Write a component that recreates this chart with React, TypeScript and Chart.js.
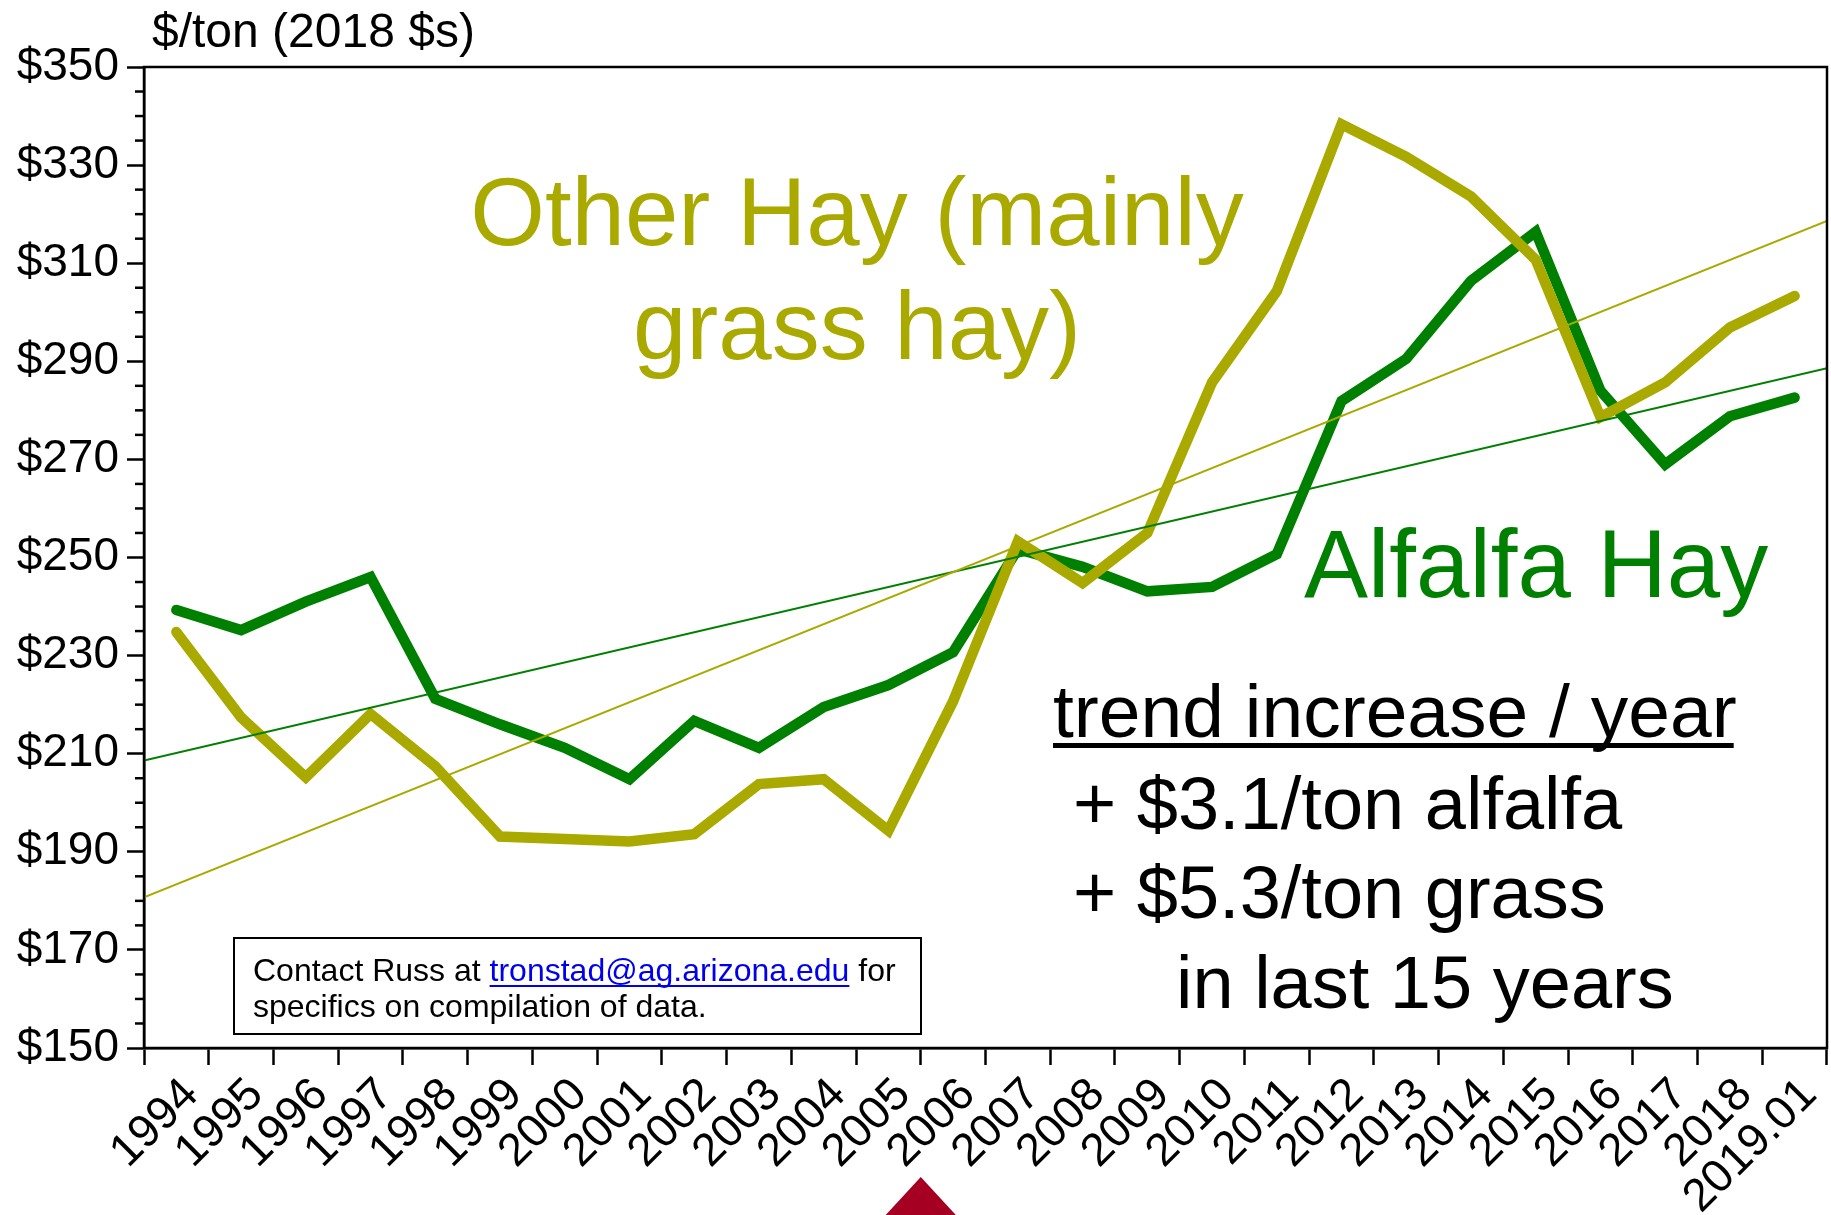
import React, { useEffect, useRef } from "react";
import { Chart, registerables } from "chart.js";

Chart.register(...registerables);

const FONT = "'Liberation Sans', Arial, Helvetica, sans-serif";
const OLIVE = "#A9A900";
const GREEN = "#008000";

// ---- data ----
const years = [
  "1994", "1995", "1996", "1997", "1998", "1999", "2000", "2001", "2002",
  "2003", "2004", "2005", "2006", "2007", "2008", "2009", "2010", "2011",
  "2012", "2013", "2014", "2015", "2016", "2017", "2018", "2019.01",
];
const alfalfaHay = [
  239.3, 235.2, 241.0, 246.0, 221.2, 216.0, 211.2, 204.8, 216.7, 211.2,
  219.5, 224.0, 230.7, 251.7, 248.1, 243.1, 244.0, 250.7, 281.9, 290.5,
  306.4, 316.4, 284.0, 269.0, 278.8, 282.6,
];
const otherHay = [
  234.8, 217.4, 205.2, 218.1, 207.4, 193.1, 192.6, 192.1, 193.6, 203.8,
  204.8, 194.3, 220.7, 253.3, 244.8, 255.0, 285.7, 304.3, 338.3, 331.7,
  323.6, 310.7, 278.6, 285.7, 296.9, 303.3,
];
// trend line values at the left and right edges of the plot
const alfalfaTrendEnds = [208.6, 288.6];
const otherTrendEnds = [180.7, 318.6];

const yMin = 150;
const yMax = 350;
const yMajorStep = 20;
const yMinorStep = 5;

// ---- texts ----
const yAxisTitle = "$/ton (2018 $s)";
const otherHayLabel = ["Other Hay (mainly", "grass hay)"];
const alfalfaLabel = "Alfalfa Hay";
const trendHeading = "trend increase / year";
const trendLines = ["+ $3.1/ton alfalfa", "+ $5.3/ton grass", "in last 15 years"];
const contactPre = "Contact Russ at ";
const contactEmail = "tronstad@ag.arizona.edu";
const contactPost = " for";
const contactLine2 = "specifics on compilation of data.";

const decorPlugin = {
  id: "decor",
  afterDatasetsDraw(chart: any) {
    const ctx = chart.ctx as CanvasRenderingContext2D;
    const { left, top, right, bottom } = chart.chartArea;
    const ys = chart.scales.y;
    const xs = chart.scales.x;
    ctx.save();
    // frame
    ctx.strokeStyle = "#000";
    ctx.lineWidth = 2.5;
    ctx.strokeRect(left, top, right - left, bottom - top);
    // minor y ticks
    for (let v = yMin; v <= yMax; v += yMinorStep) {
      if ((v - yMin) % yMajorStep === 0) continue;
      const py = ys.getPixelForValue(v);
      ctx.beginPath();
      ctx.moveTo(left - 9, py);
      ctx.lineTo(left, py);
      ctx.stroke();
    }

    ctx.textBaseline = "alphabetic";
    // y-axis title
    ctx.fillStyle = "#000";
    ctx.font = `48px ${FONT}`;
    ctx.textAlign = "left";
    ctx.fillText(yAxisTitle, 152, 47);

    // Other Hay label
    ctx.fillStyle = OLIVE;
    ctx.font = `96px ${FONT}`;
    ctx.textAlign = "center";
    ctx.fillText(otherHayLabel[0], 857, 245);
    ctx.fillText(otherHayLabel[1], 857, 359);

    // Alfalfa label
    ctx.fillStyle = GREEN;
    ctx.textAlign = "left";
    ctx.fillText(alfalfaLabel, 1304, 597);

    // trend text
    ctx.fillStyle = "#000";
    ctx.font = `75px ${FONT}`;
    ctx.fillText(trendHeading, 1053, 737);
    const hw = ctx.measureText(trendHeading).width;
    ctx.fillRect(1053, 743, hw - 3, 5);
    ctx.font = `74px ${FONT}`;
    ctx.fillText(trendLines[0], 1073, 829);
    ctx.fillText(trendLines[1], 1073, 918);
    ctx.fillText(trendLines[2], 1176, 1008);

    // contact box
    ctx.fillStyle = "#fff";
    ctx.fillRect(234, 938, 687, 96);
    ctx.strokeStyle = "#000";
    ctx.lineWidth = 2;
    ctx.strokeRect(234, 938, 687, 96);
    ctx.font = `32px ${FONT}`;
    ctx.fillStyle = "#000";
    let cx = 253;
    ctx.fillText(contactPre, cx, 981);
    cx += ctx.measureText(contactPre).width;
    ctx.fillStyle = "#0000EE";
    ctx.fillText(contactEmail, cx, 981);
    const ew = ctx.measureText(contactEmail).width;
    ctx.fillRect(cx, 985, ew, 2);
    cx += ew;
    ctx.fillStyle = "#000";
    ctx.fillText(contactPost, cx, 981);
    ctx.fillText(contactLine2, 253, 1017);

    // red marker triangle below the axis
    const tx = xs.getPixelForValue(11.5);
    ctx.fillStyle = "#A50021";
    ctx.beginPath();
    ctx.moveTo(tx, 1177);
    ctx.lineTo(tx + 36, 1216);
    ctx.lineTo(tx - 36, 1216);
    ctx.closePath();
    ctx.fill();
    ctx.restore();
  },
};

export default function App() {
  const canvasRef = useRef<HTMLCanvasElement | null>(null);

  useEffect(() => {
    if (!canvasRef.current) return;
    const chart = new Chart(canvasRef.current, {
      type: "line",
      data: {
        labels: years,
        datasets: [
          {
            label: "Other Hay trend",
            data: [
              { x: 0, y: otherTrendEnds[0] },
              { x: 1, y: otherTrendEnds[1] },
            ],
            xAxisID: "xt",
            borderColor: OLIVE,
            borderWidth: 2,
            pointRadius: 0,
            order: 1,
          },
          {
            label: "Alfalfa trend",
            data: [
              { x: 0, y: alfalfaTrendEnds[0] },
              { x: 1, y: alfalfaTrendEnds[1] },
            ],
            xAxisID: "xt",
            borderColor: GREEN,
            borderWidth: 2,
            pointRadius: 0,
            order: 2,
          },
          {
            label: "Other Hay (mainly grass hay)",
            data: otherHay,
            xAxisID: "x",
            borderColor: OLIVE,
            borderWidth: 10.5,
            borderCapStyle: "round",
            borderJoinStyle: "miter",
            pointRadius: 0,
            order: 3,
          },
          {
            label: "Alfalfa Hay",
            data: alfalfaHay,
            xAxisID: "x",
            borderColor: GREEN,
            borderWidth: 10.5,
            borderCapStyle: "round",
            borderJoinStyle: "miter",
            pointRadius: 0,
            order: 4,
          },
        ] as any,
      },
      options: {
        responsive: false,
        animation: false,
        layout: { padding: { top: 67, right: 4, left: 0, bottom: 0 } },
        plugins: {
          legend: { display: false },
          tooltip: { enabled: false },
          title: { display: false },
        },
        scales: {
          x: {
            type: "category",
            offset: true,
            grid: {
              offset: true,
              drawOnChartArea: false,
              drawTicks: true,
              tickLength: 17,
              tickWidth: 2.5,
              tickColor: "#000",
            },
            border: { display: true, color: "#000", width: 2.5 },
            ticks: {
              autoSkip: false,
              minRotation: 45,
              maxRotation: 45,
              padding: 3,
              labelOffset: 15,
              color: "#000",
              font: { family: FONT, size: 46 },
            },
            afterFit: (scale: any) => {
              scale.height = 167;
              scale.paddingLeft = 0;
              scale.paddingRight = 0;
            },
          },
          xt: {
            type: "linear",
            display: false,
            min: 0,
            max: 1,
          },
          y: {
            min: yMin,
            max: yMax,
            grid: {
              drawOnChartArea: false,
              drawTicks: true,
              tickLength: 17,
              tickWidth: 2.5,
              tickColor: "#000",
            },
            border: { display: true, color: "#000", width: 2.5 },
            ticks: {
              stepSize: yMajorStep,
              padding: 8,
              color: "#000",
              font: { family: FONT, size: 46 },
              callback: (v: any) => `$${v}`,
            },
            afterFit: (scale: any) => {
              scale.width = 144;
              scale.paddingTop = 0;
              scale.paddingBottom = 0;
            },
          },
        },
      },
      plugins: [decorPlugin],
    });
    return () => chart.destroy();
  }, []);

  return (
    <div
      style={{
        position: "absolute",
        left: 0,
        top: 0,
        width: 1831,
        height: 1215,
        background: "#fff",
        overflow: "hidden",
      }}
    >
      <canvas
        ref={canvasRef}
        width={1831}
        height={1215}
        style={{ width: 1831, height: 1215, display: "block" }}
      />
    </div>
  );
}
